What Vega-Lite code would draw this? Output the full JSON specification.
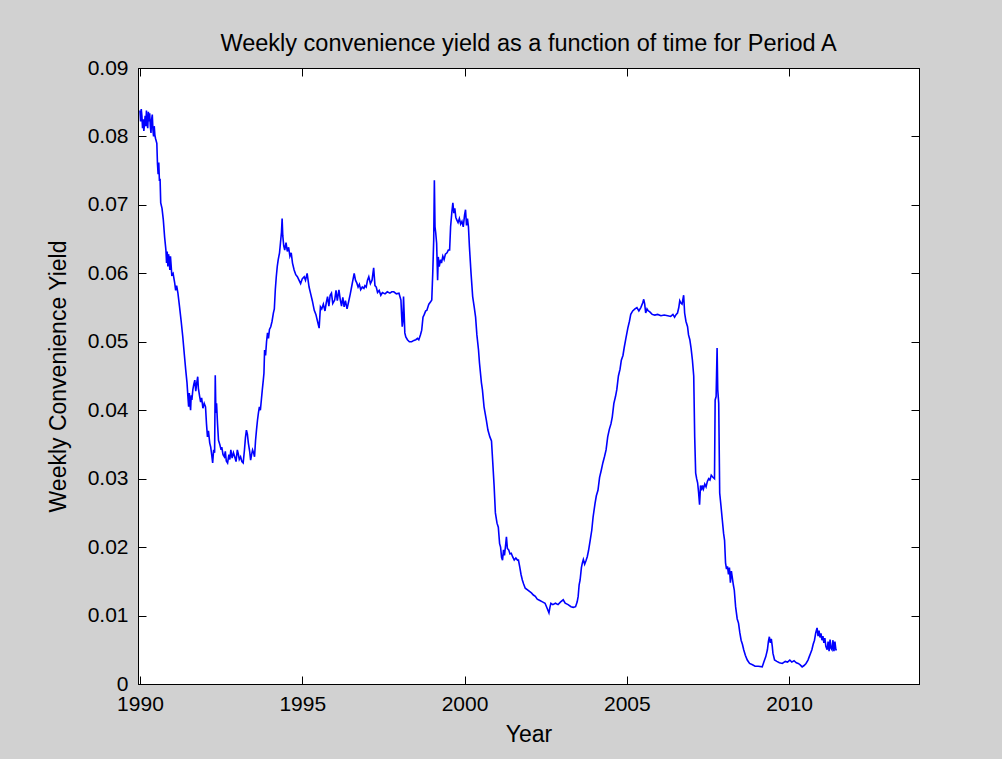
{
  "$schema": "https://vega.github.io/schema/vega-lite/v6.json",
  "width": 781,
  "height": 616,
  "autosize": "none",
  "padding": {"left": 138, "top": 68, "right": 83, "bottom": 75},
  "background": "#d1d1d1",
  "config": {
    "view": {"fill": "white", "stroke": "black", "strokeWidth": 1},
    "font": "Liberation Sans",
    "axis": {"grid": false, "domainColor": "black", "tickColor": "black", "labelColor": "black", "titleColor": "black", "labelFont": "Liberation Sans", "titleFont": "Liberation Sans", "labelFontSize": 21, "titleFontSize": 23, "titleFontWeight": "normal", "tickSize": -8, "labelFlush": false, "labelOverlap": false}
  },
  "title": {"text": "Weekly convenience yield as a function of time for Period A", "fontSize": 23.5, "fontWeight": "normal", "font": "Liberation Sans", "color": "black", "anchor": "middle", "offset": 2},
  "data": {"values": [
{"t":1990.00,"v":0.0838},{"t":1990.02,"v":0.0822},{"t":1990.04,"v":0.0840},{"t":1990.06,"v":0.0830},{"t":1990.08,"v":0.0812},{"t":1990.10,"v":0.0825},{"t":1990.12,"v":0.0808},{"t":1990.14,"v":0.0818},{"t":1990.16,"v":0.0830},{"t":1990.18,"v":0.0815},{"t":1990.20,"v":0.0838},{"t":1990.22,"v":0.0820},{"t":1990.24,"v":0.0812},{"t":1990.26,"v":0.0836},{"t":1990.28,"v":0.0822},{"t":1990.30,"v":0.0834},{"t":1990.32,"v":0.0815},{"t":1990.34,"v":0.0805},{"t":1990.36,"v":0.0825},{"t":1990.38,"v":0.0832},{"t":1990.40,"v":0.0810},{"t":1990.42,"v":0.0800},{"t":1990.44,"v":0.0815},{"t":1990.46,"v":0.0802},{"t":1990.48,"v":0.0797},{"t":1990.52,"v":0.0790},{"t":1990.54,"v":0.0760},{"t":1990.56,"v":0.0745},{"t":1990.58,"v":0.0762},{"t":1990.60,"v":0.0735},{"t":1990.62,"v":0.0738},{"t":1990.64,"v":0.0703},{"t":1990.68,"v":0.0695},{"t":1990.72,"v":0.0678},{"t":1990.76,"v":0.0653},{"t":1990.80,"v":0.0634},{"t":1990.82,"v":0.0615},{"t":1990.84,"v":0.0632},{"t":1990.86,"v":0.0610},{"t":1990.88,"v":0.0628},{"t":1990.90,"v":0.0622},{"t":1990.92,"v":0.0605},{"t":1990.94,"v":0.0625},{"t":1990.96,"v":0.0612},{"t":1990.98,"v":0.0598},{"t":1991.02,"v":0.0600},{"t":1991.07,"v":0.0586},{"t":1991.10,"v":0.0575},{"t":1991.13,"v":0.0582},{"t":1991.17,"v":0.0571},{"t":1991.22,"v":0.0551},{"t":1991.27,"v":0.0530},{"t":1991.32,"v":0.0507},{"t":1991.37,"v":0.0480},{"t":1991.41,"v":0.0459},{"t":1991.45,"v":0.0440},{"t":1991.48,"v":0.0418},{"t":1991.50,"v":0.0405},{"t":1991.52,"v":0.0425},{"t":1991.54,"v":0.0410},{"t":1991.56,"v":0.0400},{"t":1991.58,"v":0.0422},{"t":1991.60,"v":0.0415},{"t":1991.63,"v":0.0430},{"t":1991.66,"v":0.0438},{"t":1991.69,"v":0.0444},{"t":1991.72,"v":0.0428},{"t":1991.75,"v":0.0440},{"t":1991.78,"v":0.0449},{"t":1991.80,"v":0.0432},{"t":1991.84,"v":0.0420},{"t":1991.87,"v":0.0412},{"t":1991.90,"v":0.0418},{"t":1991.94,"v":0.0403},{"t":1991.98,"v":0.0410},{"t":1992.02,"v":0.0405},{"t":1992.05,"v":0.0380},{"t":1992.08,"v":0.0361},{"t":1992.11,"v":0.0370},{"t":1992.15,"v":0.0352},{"t":1992.18,"v":0.0346},{"t":1992.21,"v":0.0335},{"t":1992.24,"v":0.0323},{"t":1992.27,"v":0.0342},{"t":1992.30,"v":0.0338},{"t":1992.32,"v":0.0451},{"t":1992.34,"v":0.0396},{"t":1992.36,"v":0.0410},{"t":1992.39,"v":0.0380},{"t":1992.42,"v":0.0356},{"t":1992.46,"v":0.0350},{"t":1992.50,"v":0.0342},{"t":1992.52,"v":0.0346},{"t":1992.56,"v":0.0335},{"t":1992.60,"v":0.0332},{"t":1992.63,"v":0.0340},{"t":1992.66,"v":0.0326},{"t":1992.70,"v":0.0323},{"t":1992.74,"v":0.0335},{"t":1992.77,"v":0.0328},{"t":1992.80,"v":0.0342},{"t":1992.84,"v":0.0330},{"t":1992.88,"v":0.0338},{"t":1992.92,"v":0.0332},{"t":1992.96,"v":0.0325},{"t":1993.00,"v":0.0342},{"t":1993.03,"v":0.0336},{"t":1993.06,"v":0.0328},{"t":1993.10,"v":0.0332},{"t":1993.14,"v":0.0325},{"t":1993.18,"v":0.0323},{"t":1993.22,"v":0.0342},{"t":1993.25,"v":0.0360},{"t":1993.28,"v":0.0371},{"t":1993.31,"v":0.0365},{"t":1993.34,"v":0.0352},{"t":1993.38,"v":0.0340},{"t":1993.41,"v":0.0327},{"t":1993.44,"v":0.0335},{"t":1993.47,"v":0.0342},{"t":1993.50,"v":0.0338},{"t":1993.53,"v":0.0332},{"t":1993.56,"v":0.0355},{"t":1993.59,"v":0.0371},{"t":1993.62,"v":0.0385},{"t":1993.65,"v":0.0396},{"t":1993.68,"v":0.0405},{"t":1993.71,"v":0.0400},{"t":1993.74,"v":0.0415},{"t":1993.77,"v":0.0430},{"t":1993.80,"v":0.0444},{"t":1993.82,"v":0.0454},{"t":1993.84,"v":0.0488},{"t":1993.87,"v":0.0480},{"t":1993.90,"v":0.0500},{"t":1993.93,"v":0.0513},{"t":1993.96,"v":0.0505},{"t":1993.99,"v":0.0518},{"t":1994.03,"v":0.0522},{"t":1994.07,"v":0.0530},{"t":1994.11,"v":0.0542},{"t":1994.14,"v":0.0548},{"t":1994.17,"v":0.0576},{"t":1994.20,"v":0.0595},{"t":1994.23,"v":0.0610},{"t":1994.26,"v":0.0620},{"t":1994.30,"v":0.0630},{"t":1994.33,"v":0.0645},{"t":1994.36,"v":0.0660},{"t":1994.38,"v":0.0680},{"t":1994.40,"v":0.0655},{"t":1994.43,"v":0.0640},{"t":1994.46,"v":0.0634},{"t":1994.50,"v":0.0645},{"t":1994.54,"v":0.0632},{"t":1994.58,"v":0.0638},{"t":1994.62,"v":0.0625},{"t":1994.66,"v":0.0630},{"t":1994.70,"v":0.0615},{"t":1994.75,"v":0.0605},{"t":1994.80,"v":0.0598},{"t":1994.85,"v":0.0595},{"t":1994.90,"v":0.0590},{"t":1994.95,"v":0.0585},{"t":1995.00,"v":0.0592},{"t":1995.06,"v":0.0595},{"t":1995.10,"v":0.0590},{"t":1995.15,"v":0.0600},{"t":1995.21,"v":0.0580},{"t":1995.26,"v":0.0570},{"t":1995.31,"v":0.0560},{"t":1995.37,"v":0.0546},{"t":1995.42,"v":0.0540},{"t":1995.47,"v":0.0530},{"t":1995.52,"v":0.0520},{"t":1995.56,"v":0.0551},{"t":1995.60,"v":0.0548},{"t":1995.65,"v":0.0555},{"t":1995.70,"v":0.0545},{"t":1995.74,"v":0.0557},{"t":1995.78,"v":0.0566},{"t":1995.82,"v":0.0552},{"t":1995.86,"v":0.0568},{"t":1995.90,"v":0.0571},{"t":1995.94,"v":0.0556},{"t":1996.00,"v":0.0561},{"t":1996.04,"v":0.0575},{"t":1996.08,"v":0.0560},{"t":1996.13,"v":0.0576},{"t":1996.17,"v":0.0562},{"t":1996.21,"v":0.0552},{"t":1996.25,"v":0.0565},{"t":1996.29,"v":0.0551},{"t":1996.33,"v":0.0560},{"t":1996.38,"v":0.0548},{"t":1996.44,"v":0.0561},{"t":1996.48,"v":0.0570},{"t":1996.52,"v":0.0580},{"t":1996.56,"v":0.0590},{"t":1996.60,"v":0.0600},{"t":1996.64,"v":0.0590},{"t":1996.68,"v":0.0586},{"t":1996.72,"v":0.0580},{"t":1996.76,"v":0.0584},{"t":1996.80,"v":0.0576},{"t":1996.85,"v":0.0580},{"t":1996.90,"v":0.0578},{"t":1996.93,"v":0.0582},{"t":1996.97,"v":0.0580},{"t":1997.01,"v":0.0590},{"t":1997.05,"v":0.0595},{"t":1997.10,"v":0.0585},{"t":1997.15,"v":0.0590},{"t":1997.20,"v":0.0608},{"t":1997.24,"v":0.0582},{"t":1997.28,"v":0.0580},{"t":1997.32,"v":0.0572},{"t":1997.37,"v":0.0575},{"t":1997.42,"v":0.0568},{"t":1997.47,"v":0.0572},{"t":1997.55,"v":0.0570},{"t":1997.62,"v":0.0573},{"t":1997.70,"v":0.0571},{"t":1997.76,"v":0.0573},{"t":1997.82,"v":0.0573},{"t":1997.90,"v":0.0570},{"t":1997.98,"v":0.0571},{"t":1998.04,"v":0.0561},{"t":1998.06,"v":0.0540},{"t":1998.08,"v":0.0522},{"t":1998.10,"v":0.0530},{"t":1998.12,"v":0.0566},{"t":1998.14,"v":0.0540},{"t":1998.16,"v":0.0513},{"t":1998.19,"v":0.0507},{"t":1998.24,"v":0.0503},{"t":1998.30,"v":0.0500},{"t":1998.37,"v":0.0500},{"t":1998.44,"v":0.0502},{"t":1998.50,"v":0.0503},{"t":1998.55,"v":0.0505},{"t":1998.59,"v":0.0503},{"t":1998.64,"v":0.0510},{"t":1998.68,"v":0.0517},{"t":1998.72,"v":0.0536},{"t":1998.76,"v":0.0540},{"t":1998.80,"v":0.0545},{"t":1998.84,"v":0.0546},{"t":1998.90,"v":0.0555},{"t":1998.95,"v":0.0558},{"t":1998.99,"v":0.0561},{"t":1999.02,"v":0.0600},{"t":1999.05,"v":0.0649},{"t":1999.07,"v":0.0736},{"t":1999.09,"v":0.0668},{"t":1999.11,"v":0.0660},{"t":1999.14,"v":0.0644},{"t":1999.17,"v":0.0590},{"t":1999.19,"v":0.0624},{"t":1999.22,"v":0.0610},{"t":1999.26,"v":0.0620},{"t":1999.29,"v":0.0615},{"t":1999.33,"v":0.0625},{"t":1999.37,"v":0.0620},{"t":1999.41,"v":0.0628},{"t":1999.46,"v":0.0630},{"t":1999.50,"v":0.0634},{"t":1999.54,"v":0.0634},{"t":1999.57,"v":0.0668},{"t":1999.61,"v":0.0690},{"t":1999.64,"v":0.0703},{"t":1999.67,"v":0.0688},{"t":1999.70,"v":0.0695},{"t":1999.73,"v":0.0682},{"t":1999.76,"v":0.0678},{"t":1999.80,"v":0.0674},{"t":1999.84,"v":0.0680},{"t":1999.88,"v":0.0672},{"t":1999.92,"v":0.0676},{"t":1999.96,"v":0.0668},{"t":2000.00,"v":0.0685},{"t":2000.03,"v":0.0693},{"t":2000.06,"v":0.0670},{"t":2000.09,"v":0.0680},{"t":2000.12,"v":0.0668},{"t":2000.15,"v":0.0639},{"t":2000.20,"v":0.0600},{"t":2000.25,"v":0.0566},{"t":2000.30,"v":0.0550},{"t":2000.34,"v":0.0536},{"t":2000.38,"v":0.0510},{"t":2000.43,"v":0.0488},{"t":2000.46,"v":0.0469},{"t":2000.52,"v":0.0440},{"t":2000.55,"v":0.0430},{"t":2000.60,"v":0.0405},{"t":2000.67,"v":0.0386},{"t":2000.72,"v":0.0371},{"t":2000.78,"v":0.0361},{"t":2000.83,"v":0.0355},{"t":2000.87,"v":0.0323},{"t":2000.91,"v":0.0290},{"t":2000.95,"v":0.0250},{"t":2001.00,"v":0.0235},{"t":2001.04,"v":0.0229},{"t":2001.08,"v":0.0205},{"t":2001.11,"v":0.0200},{"t":2001.14,"v":0.0185},{"t":2001.17,"v":0.0181},{"t":2001.20,"v":0.0196},{"t":2001.23,"v":0.0188},{"t":2001.27,"v":0.0205},{"t":2001.29,"v":0.0215},{"t":2001.32,"v":0.0198},{"t":2001.36,"v":0.0196},{"t":2001.40,"v":0.0190},{"t":2001.44,"v":0.0191},{"t":2001.48,"v":0.0186},{"t":2001.53,"v":0.0181},{"t":2001.58,"v":0.0184},{"t":2001.63,"v":0.0181},{"t":2001.66,"v":0.0181},{"t":2001.70,"v":0.0171},{"t":2001.74,"v":0.0160},{"t":2001.78,"v":0.0152},{"t":2001.82,"v":0.0146},{"t":2001.87,"v":0.0140},{"t":2001.95,"v":0.0137},{"t":2002.06,"v":0.0133},{"t":2002.12,"v":0.0130},{"t":2002.18,"v":0.0128},{"t":2002.24,"v":0.0124},{"t":2002.32,"v":0.0122},{"t":2002.40,"v":0.0120},{"t":2002.48,"v":0.0118},{"t":2002.55,"v":0.0110},{"t":2002.60,"v":0.0104},{"t":2002.63,"v":0.0112},{"t":2002.66,"v":0.0118},{"t":2002.72,"v":0.0116},{"t":2002.80,"v":0.0118},{"t":2002.88,"v":0.0116},{"t":2002.96,"v":0.0120},{"t":2003.04,"v":0.0123},{"t":2003.10,"v":0.0118},{"t":2003.19,"v":0.0116},{"t":2003.28,"v":0.0113},{"t":2003.35,"v":0.0112},{"t":2003.42,"v":0.0113},{"t":2003.47,"v":0.0120},{"t":2003.50,"v":0.0128},{"t":2003.53,"v":0.0145},{"t":2003.56,"v":0.0152},{"t":2003.60,"v":0.0170},{"t":2003.63,"v":0.0177},{"t":2003.66,"v":0.0182},{"t":2003.70,"v":0.0175},{"t":2003.74,"v":0.0180},{"t":2003.78,"v":0.0186},{"t":2003.82,"v":0.0195},{"t":2003.87,"v":0.0210},{"t":2003.92,"v":0.0225},{"t":2003.96,"v":0.0244},{"t":2004.02,"v":0.0264},{"t":2004.06,"v":0.0275},{"t":2004.11,"v":0.0283},{"t":2004.16,"v":0.0302},{"t":2004.21,"v":0.0312},{"t":2004.26,"v":0.0323},{"t":2004.31,"v":0.0332},{"t":2004.36,"v":0.0342},{"t":2004.41,"v":0.0361},{"t":2004.46,"v":0.0372},{"t":2004.51,"v":0.0380},{"t":2004.55,"v":0.0390},{"t":2004.60,"v":0.0410},{"t":2004.65,"v":0.0420},{"t":2004.69,"v":0.0430},{"t":2004.74,"v":0.0450},{"t":2004.79,"v":0.0460},{"t":2004.83,"v":0.0473},{"t":2004.88,"v":0.0480},{"t":2004.92,"v":0.0492},{"t":2004.97,"v":0.0505},{"t":2005.03,"v":0.0520},{"t":2005.08,"v":0.0530},{"t":2005.12,"v":0.0540},{"t":2005.18,"v":0.0545},{"t":2005.25,"v":0.0548},{"t":2005.31,"v":0.0550},{"t":2005.37,"v":0.0545},{"t":2005.43,"v":0.0550},{"t":2005.49,"v":0.0557},{"t":2005.52,"v":0.0562},{"t":2005.55,"v":0.0555},{"t":2005.58,"v":0.0542},{"t":2005.62,"v":0.0548},{"t":2005.66,"v":0.0545},{"t":2005.70,"v":0.0544},{"t":2005.78,"v":0.0540},{"t":2005.86,"v":0.0539},{"t":2005.95,"v":0.0540},{"t":2006.05,"v":0.0538},{"t":2006.15,"v":0.0539},{"t":2006.26,"v":0.0538},{"t":2006.35,"v":0.0537},{"t":2006.42,"v":0.0540},{"t":2006.47,"v":0.0536},{"t":2006.52,"v":0.0540},{"t":2006.56,"v":0.0542},{"t":2006.60,"v":0.0550},{"t":2006.63,"v":0.0560},{"t":2006.66,"v":0.0557},{"t":2006.70,"v":0.0555},{"t":2006.75,"v":0.0568},{"t":2006.78,"v":0.0542},{"t":2006.82,"v":0.0530},{"t":2006.87,"v":0.0522},{"t":2006.90,"v":0.0510},{"t":2006.94,"v":0.0503},{"t":2006.98,"v":0.0490},{"t":2007.02,"v":0.0473},{"t":2007.06,"v":0.0450},{"t":2007.09,"v":0.0361},{"t":2007.12,"v":0.0308},{"t":2007.15,"v":0.0300},{"t":2007.18,"v":0.0294},{"t":2007.21,"v":0.0280},{"t":2007.24,"v":0.0262},{"t":2007.27,"v":0.0290},{"t":2007.30,"v":0.0283},{"t":2007.33,"v":0.0290},{"t":2007.36,"v":0.0285},{"t":2007.40,"v":0.0292},{"t":2007.44,"v":0.0288},{"t":2007.48,"v":0.0296},{"t":2007.52,"v":0.0300},{"t":2007.56,"v":0.0298},{"t":2007.60,"v":0.0305},{"t":2007.65,"v":0.0302},{"t":2007.70,"v":0.0300},{"t":2007.72,"v":0.0415},{"t":2007.75,"v":0.0420},{"t":2007.78,"v":0.0491},{"t":2007.80,"v":0.0430},{"t":2007.83,"v":0.0410},{"t":2007.86,"v":0.0279},{"t":2007.90,"v":0.0260},{"t":2007.94,"v":0.0240},{"t":2007.98,"v":0.0220},{"t":2008.01,"v":0.0210},{"t":2008.04,"v":0.0177},{"t":2008.07,"v":0.0168},{"t":2008.10,"v":0.0172},{"t":2008.13,"v":0.0160},{"t":2008.16,"v":0.0170},{"t":2008.19,"v":0.0148},{"t":2008.22,"v":0.0165},{"t":2008.25,"v":0.0155},{"t":2008.28,"v":0.0145},{"t":2008.31,"v":0.0137},{"t":2008.35,"v":0.0113},{"t":2008.40,"v":0.0095},{"t":2008.44,"v":0.0089},{"t":2008.48,"v":0.0075},{"t":2008.52,"v":0.0064},{"t":2008.56,"v":0.0058},{"t":2008.60,"v":0.0050},{"t":2008.65,"v":0.0042},{"t":2008.71,"v":0.0035},{"t":2008.78,"v":0.0030},{"t":2008.87,"v":0.0028},{"t":2008.95,"v":0.0026},{"t":2009.05,"v":0.0026},{"t":2009.17,"v":0.0025},{"t":2009.22,"v":0.0032},{"t":2009.28,"v":0.0040},{"t":2009.33,"v":0.0050},{"t":2009.36,"v":0.0062},{"t":2009.39,"v":0.0069},{"t":2009.42,"v":0.0060},{"t":2009.45,"v":0.0066},{"t":2009.48,"v":0.0055},{"t":2009.50,"v":0.0045},{"t":2009.55,"v":0.0035},{"t":2009.62,"v":0.0033},{"t":2009.70,"v":0.0031},{"t":2009.79,"v":0.0030},{"t":2009.88,"v":0.0033},{"t":2009.95,"v":0.0032},{"t":2010.02,"v":0.0035},{"t":2010.08,"v":0.0032},{"t":2010.15,"v":0.0034},{"t":2010.22,"v":0.0031},{"t":2010.28,"v":0.0030},{"t":2010.34,"v":0.0028},{"t":2010.40,"v":0.0025},{"t":2010.46,"v":0.0027},{"t":2010.52,"v":0.0030},{"t":2010.58,"v":0.0035},{"t":2010.62,"v":0.0040},{"t":2010.66,"v":0.0045},{"t":2010.70,"v":0.0050},{"t":2010.74,"v":0.0058},{"t":2010.78,"v":0.0064},{"t":2010.82,"v":0.0075},{"t":2010.86,"v":0.0082},{"t":2010.89,"v":0.0070},{"t":2010.92,"v":0.0078},{"t":2010.95,"v":0.0068},{"t":2010.98,"v":0.0074},{"t":2011.01,"v":0.0064},{"t":2011.04,"v":0.0070},{"t":2011.07,"v":0.0060},{"t":2011.10,"v":0.0067},{"t":2011.13,"v":0.0055},{"t":2011.17,"v":0.0050},{"t":2011.20,"v":0.0062},{"t":2011.23,"v":0.0048},{"t":2011.26,"v":0.0065},{"t":2011.29,"v":0.0052},{"t":2011.32,"v":0.0050},{"t":2011.35,"v":0.0064},{"t":2011.38,"v":0.0048},{"t":2011.41,"v":0.0062},{"t":2011.44,"v":0.0050},{"t":2011.47,"v":0.0050}
  ]},
  "layer": [
    {
      "mark": {"type": "line", "color": "#0000ff", "strokeWidth": 1.6, "clip": true},
      "encoding": {
        "x": {"field": "t", "type": "quantitative", "scale": {"domain": [1989.94, 2014], "nice": false, "zero": false},
              "axis": {"orient": "bottom", "values": [1990, 1995, 2000, 2005, 2010], "format": "d", "title": "Year", "labelPadding": 17, "titlePadding": 9}},
        "y": {"field": "v", "type": "quantitative", "scale": {"domain": [0, 0.09], "nice": false, "zero": true},
              "axis": {"orient": "left", "values": [0, 0.01, 0.02, 0.03, 0.04, 0.05, 0.06, 0.07, 0.08, 0.09], "labelExpr": "datum.value == 0 ? '0' : format(datum.value, '.2f')", "title": "Weekly Convenience Yield", "labelPadding": 18, "titlePadding": 17}}
      }
    },
    {
      "mark": {"type": "line", "opacity": 0},
      "encoding": {
        "x": {"field": "t", "type": "quantitative", "axis": {"orient": "top", "values": [1990, 1995, 2000, 2005, 2010], "labels": false, "title": null}},
        "y": {"field": "v", "type": "quantitative", "axis": {"orient": "right", "values": [0, 0.01, 0.02, 0.03, 0.04, 0.05, 0.06, 0.07, 0.08, 0.09], "labels": false, "title": null}}
      }
    }
  ],
  "resolve": {"axis": {"x": "independent", "y": "independent"}}
}
